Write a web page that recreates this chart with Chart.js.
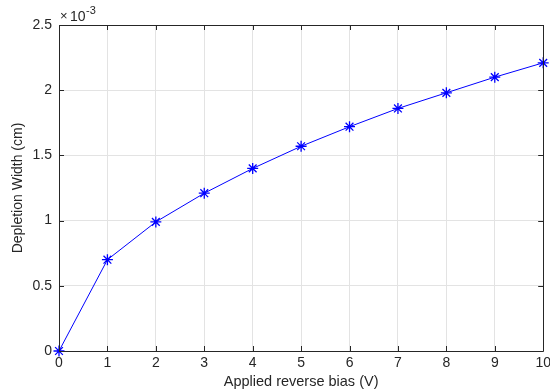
<!DOCTYPE html>
<html>
<head>
<meta charset="utf-8">
<script src="https://cdn.jsdelivr.net/npm/chart.js@4/dist/chart.umd.min.js"></script>
<style>
  html, body { margin: 0; padding: 0; background: #fff; }
  #wrap { width: 550px; height: 391px; }
</style>
</head>
<body>
<div id="wrap"><canvas id="plot"></canvas></div>
<script>
// applied reverse bias (V)
const biasVolts = [0, 1, 2, 3, 4, 5, 6, 7, 8, 9, 10];
// depletion width, in units of 1e-3 cm
const depletionWidth = [0, 0.70, 0.99, 1.21, 1.40, 1.57, 1.72, 1.86, 1.98, 2.10, 2.21];
const yTicks = [0, 0.5, 1, 1.5, 2, 2.5];

const AXIS_COLOR = '#262626';
const FONT = 'Liberation Sans, Arial, sans-serif';

// box outline and inward ticks, MATLAB style
const boxPlugin = {
    id: 'box',
    afterDraw(chart) {
        const ctx = chart.ctx;
        const a = chart.chartArea;
        const xs = chart.scales.x;
        const ys = chart.scales.y;
        const len = 5;
        ctx.save();
        ctx.strokeStyle = AXIS_COLOR;
        ctx.lineWidth = 1;
        ctx.beginPath();
        ctx.rect(Math.round(a.left) + 0.5, Math.round(a.top) + 0.5,
                 Math.round(a.right - a.left), Math.round(a.bottom - a.top));
        xs.ticks.forEach(t => {
            const px = Math.round(xs.getPixelForValue(t.value)) + 0.5;
            ctx.moveTo(px, a.bottom);
            ctx.lineTo(px, a.bottom - len);
            ctx.moveTo(px, a.top);
            ctx.lineTo(px, a.top + len);
        });
        ys.ticks.forEach(t => {
            const py = Math.round(ys.getPixelForValue(t.value)) + 0.5;
            ctx.moveTo(a.left, py);
            ctx.lineTo(a.left + len, py);
            ctx.moveTo(a.right, py);
            ctx.lineTo(a.right - len, py);
        });
        ctx.stroke();

        // exponent label
        ctx.fillStyle = AXIS_COLOR;
        ctx.textBaseline = 'alphabetic';
        ctx.textAlign = 'left';
        ctx.font = '13px ' + FONT;
        ctx.fillText('\u00d7', a.left + 1, a.top - 5);
        ctx.font = '14px ' + FONT;
        ctx.fillText('10', a.left + 11, a.top - 4);
        ctx.font = '11px ' + FONT;
        ctx.fillText('-3', a.left + 27, a.top - 11);
        ctx.restore();
    }
};

const points = biasVolts.map((v, i) => ({ x: v, y: depletionWidth[i] }));

new Chart(document.getElementById('plot'), {
    type: 'line',
    data: {
        datasets: [{
            data: points,
            borderColor: '#0000ff',
            backgroundColor: '#0000ff',
            borderWidth: 1,
            pointStyle: 'star',
            pointRadius: 5.5,
            pointBorderWidth: 1.3,
            pointHoverRadius: 5.5,
            tension: 0,
            fill: false,
            clip: false
        }]
    },
    options: {
        responsive: true,
        maintainAspectRatio: false,
        animation: false,
        layout: { padding: { top: 25, right: 2, left: 0, bottom: 0 } },
        plugins: {
            legend: { display: false },
            tooltip: { enabled: false }
        },
        scales: {
            x: {
                type: 'linear',
                min: 0,
                max: 10,
                afterFit(s) { s.height = 40; s.paddingLeft = 0; s.paddingRight = 0; },
                ticks: {
                    stepSize: 1,
                    color: AXIS_COLOR,
                    padding: 4,
                    maxRotation: 0,
                    font: { family: FONT, size: 14 }
                },
                grid: { color: '#e3e3e3', drawTicks: false },
                border: { display: false },
                title: {
                    display: true,
                    text: 'Applied reverse bias (V)',
                    color: AXIS_COLOR,
                    padding: { top: 1, bottom: 0 },
                    font: { family: FONT, size: 14.5 }
                }
            },
            y: {
                type: 'linear',
                min: 0,
                max: 2.5,
                afterFit(s) { s.width = 59; s.paddingTop = 0; s.paddingBottom = 0; },
                afterBuildTicks(s) { s.ticks = yTicks.map(v => ({ value: v })); },
                ticks: {
                    color: AXIS_COLOR,
                    padding: 7,
                    font: { family: FONT, size: 14 },
                    callback: v => String(v)
                },
                grid: { color: '#e3e3e3', drawTicks: false },
                border: { display: false },
                title: {
                    display: true,
                    text: 'Depletion Width (cm)',
                    color: AXIS_COLOR,
                    padding: { top: 10, bottom: 0 },
                    font: { family: FONT, size: 14 }
                }
            }
        }
    },
    plugins: [boxPlugin]
});
</script>
</body>
</html>
